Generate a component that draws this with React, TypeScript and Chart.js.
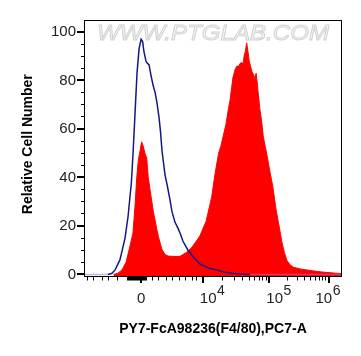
import React, { useEffect, useRef } from 'react';
import { Chart, registerables } from 'chart.js';

Chart.register(...registerables);

// x values are display channels of the biexponential axis (0 .. 1004)
const isoChannels = [0, 90, 106, 118, 137, 157, 169, 182, 189, 196, 204, 212, 220, 226, 231, 239, 245, 251, 259, 267, 275, 282, 290, 296, 302, 314, 322, 333, 341, 353, 365, 373, 384, 396, 404, 424, 451, 490, 522, 541, 596, 647, 1004];
const isoCounts = [0, 0, 0.5, 1.9, 6, 15, 24, 38, 51, 66, 83, 93, 97, 96, 92, 88, 87, 86.5, 82, 78, 75, 71, 65, 59, 51, 41, 37, 31, 26, 21.5, 19, 17, 13.8, 11.5, 10, 7.3, 4.3, 2.5, 1.8, 1, 0.3, 0, 0];

const sampleChannels = [112, 129, 145, 161, 177, 188, 196, 203, 209, 216, 222, 228, 235, 242, 248, 255, 268, 281, 288, 301, 314, 326, 341, 357, 373, 396, 416, 435, 451, 475, 497, 510, 524, 533, 542, 553, 562, 569, 575, 580, 588, 596, 601, 608, 615, 620, 624, 629, 634, 639, 644, 649, 655, 661, 667, 671, 676, 680, 686, 693, 699, 714, 726, 737, 749, 761, 773, 782, 792, 804, 817, 843, 869, 894, 922, 953, 987, 1004];
const sampleCounts = [0, 0.5, 1.9, 5, 12, 17, 28, 40, 47, 51, 54.7, 53, 50, 48, 40, 35, 26, 19, 15.6, 10.5, 8.2, 7.6, 7.5, 7.4, 7.5, 9, 10.8, 13.5, 16, 22, 32, 41.5, 50, 53, 57, 62, 68, 72, 77, 81, 84.3, 86, 85.5, 87, 87.5, 86.5, 90, 92, 95.5, 92, 88, 86, 83.5, 82.5, 80.5, 83, 78.5, 74, 68, 63, 57, 49, 42, 36, 27, 20, 13, 9, 5.8, 4, 3, 2.3, 1.9, 1.5, 1.1, 0.8, 0.5, 0.4];

const xMajorTicks = [220, 462, 723, 955];
const xTickBase = ['0', '10', '10', '10'];
const xTickExp = ['', '4', '5', '6'];
const xMinorTicks = [8, 35, 67, 94, 125.5, 263, 290, 318, 345, 372.5, 396, 420, 439,
  540.6, 586.5, 619.1, 644.4, 665.1, 682.5, 697.7, 711.1,
  792.8, 833.7, 862.7, 885.2, 903.5, 919.0, 932.5, 944.4];
const xDenseTicks = [165, 169, 173, 177, 181, 185, 189, 193, 197, 201, 205, 209, 213, 217, 221, 225, 229, 233, 237, 241];

const yMajorTicks = [0, 20, 40, 60, 80, 100];
const yMinorTicks = [5, 10, 15, 25, 30, 35, 45, 50, 55, 65, 70, 75, 85, 90, 95];

const xTitle = 'PY7-FcA98236(F4/80),PC7-A';
const yTitle = 'Relative Cell Number';
const watermark = 'WWW.PTGLAB.COM';

const FONT = '"Liberation Sans", Arial, sans-serif';
const NAVY = '#16168a';
const RED = '#ff0000';

const axisPlugin = {
  id: 'flowAxes',
  beforeDatasetsDraw(chart: any) {
    const { ctx } = chart;
    ctx.save();
    ctx.font = `italic 22px ${FONT}`;
    const w = ctx.measureText(watermark).width;
    ctx.translate(97, 40);
    ctx.scale(232 / w, 1);
    ctx.fillStyle = '#f8f8f8';
    ctx.strokeStyle = '#d2d2d2';
    ctx.lineWidth = 1;
    ctx.fillText(watermark, 0, 0);
    ctx.strokeText(watermark, 0, 0);
    ctx.restore();
  },
  afterDatasetsDraw(chart: any) {
    const { ctx, chartArea: a, scales } = chart;
    const x = scales.x;
    const y = scales.y;
    ctx.save();
    ctx.strokeStyle = '#000';
    ctx.lineWidth = 1;
    ctx.strokeRect(a.left - 0.5, a.top - 0.5, a.right - a.left + 1, a.bottom - a.top + 1);

    // y ticks
    ctx.lineWidth = 2;
    ctx.beginPath();
    yMajorTicks.forEach((v) => {
      const py = Math.round(y.getPixelForValue(v));
      ctx.moveTo(a.left - 8, py);
      ctx.lineTo(a.left - 1, py);
    });
    ctx.stroke();
    ctx.lineWidth = 1;
    ctx.beginPath();
    yMinorTicks.forEach((v) => {
      const py = Math.floor(y.getPixelForValue(v)) + 0.5;
      ctx.moveTo(a.left - 4, py);
      ctx.lineTo(a.left - 1, py);
    });
    ctx.stroke();

    ctx.fillStyle = '#222';
    ctx.font = `15px ${FONT}`;
    ctx.textAlign = 'right';
    ctx.textBaseline = 'middle';
    yMajorTicks.forEach((v) => {
      ctx.fillText(String(v), a.left - 9, y.getPixelForValue(v));
    });

    // x ticks
    const yb = a.bottom + 1;
    ctx.lineWidth = 1;
    ctx.beginPath();
    [...xMinorTicks, ...xDenseTicks].forEach((v) => {
      const px = Math.floor(x.getPixelForValue(v)) + 0.5;
      ctx.moveTo(px, yb);
      ctx.lineTo(px, yb + 3.5);
    });
    ctx.stroke();
    ctx.lineWidth = 2;
    ctx.beginPath();
    xMajorTicks.forEach((v) => {
      const px = Math.round(x.getPixelForValue(v));
      ctx.moveTo(px, yb);
      ctx.lineTo(px, yb + 6);
    });
    ctx.stroke();

    ctx.textBaseline = 'alphabetic';
    ctx.fillStyle = '#222';
    xMajorTicks.forEach((v, i) => {
      const px = x.getPixelForValue(v);
      const base = xTickBase[i];
      const exp = xTickExp[i];
      if (!exp) {
        ctx.font = `15px ${FONT}`;
        ctx.textAlign = 'center';
        ctx.fillText(base, px, a.bottom + 27);
        return;
      }
      ctx.font = `15px ${FONT}`;
      const wb = ctx.measureText(base).width;
      ctx.font = `14px ${FONT}`;
      const we = ctx.measureText(exp).width;
      let left = px - 3;
      if (left + wb + we > a.right - 1) left = a.right - 1 - wb - we;
      ctx.textAlign = 'left';
      ctx.font = `15px ${FONT}`;
      ctx.fillText(base, left, a.bottom + 27);
      ctx.font = `14px ${FONT}`;
      ctx.fillText(exp, left + wb + 0.5, a.bottom + 19);
    });

    // titles
    ctx.fillStyle = '#000';
    ctx.font = `bold 14px ${FONT}`;
    ctx.textAlign = 'center';
    ctx.fillText(xTitle, (a.left + a.right) / 2, a.bottom + 57);
    ctx.save();
    ctx.translate(32, (y.getPixelForValue(0) + y.getPixelForValue(100)) / 2 - 9);
    ctx.rotate(-Math.PI / 2);
    ctx.fillText(yTitle, 0, 0);
    ctx.restore();
    ctx.restore();
  },
};

export default function App() {
  const ref = useRef<HTMLCanvasElement>(null);
  useEffect(() => {
    const chart = new Chart(ref.current as HTMLCanvasElement, {
      type: 'line',
      data: {
        datasets: [
          {
            label: 'Isotype control',
            data: isoChannels.map((c, i) => ({ x: c, y: isoCounts[i] })),
            borderColor: NAVY,
            borderWidth: 1.5,
            pointRadius: 0,
            fill: false,
            order: 0,
            segment: {
              borderColor: (c: any) =>
                c.p0.parsed.y === 0 && c.p1.parsed.y === 0 ? 'rgba(150,120,200,0.55)' : undefined,
            },
          } as any,
          {
            label: 'Sample',
            data: sampleChannels.map((c, i) => ({ x: c, y: sampleCounts[i] })),
            borderColor: RED,
            backgroundColor: RED,
            borderWidth: 1,
            pointRadius: 0,
            fill: 'start',
            order: 1,
          },
        ],
      },
      options: {
        animation: false,
        responsive: false,
        devicePixelRatio: 1,
        layout: { padding: { left: 85, right: 20, top: 21, bottom: 80 } },
        plugins: { legend: { display: false }, tooltip: { enabled: false } },
        elements: { line: { tension: 0 } },
        scales: {
          x: { type: 'linear', min: 0, max: 1004, display: false },
          y: { type: 'linear', min: -0.62, max: 104.5, display: false },
        },
      },
      plugins: [axisPlugin],
    });
    return () => chart.destroy();
  }, []);
  return (
    <div style={{ position: 'absolute', left: 0, top: 0, width: 361, height: 356, background: '#fff' }}>
      <canvas ref={ref} width={361} height={356} style={{ display: 'block' }} />
    </div>
  );
}
